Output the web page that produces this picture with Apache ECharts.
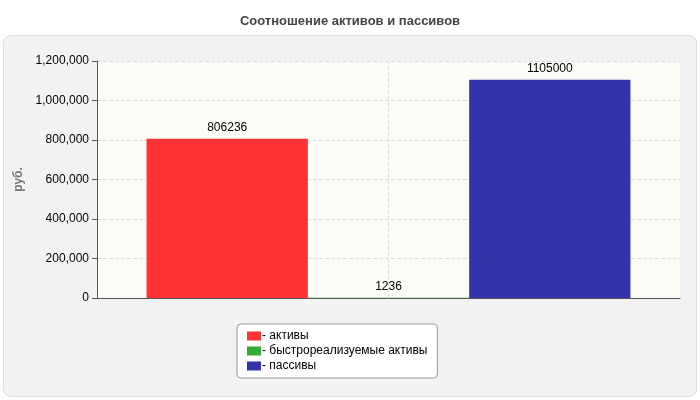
<!doctype html>
<html>
<head>
<meta charset="UTF-8">
<script src="https://cdn.jsdelivr.net/npm/echarts@6/dist/echarts.min.js"></script>
<style>
  body{margin:0;background:#fff;}
  #panel{position:absolute;left:3px;top:35px;width:692px;height:360px;background:#f2f2f2;border:1px solid #ddd;border-radius:8px;}
  #main{position:absolute;left:0;top:0;width:700px;height:400px;}
</style>
</head>
<body>
<div id="panel"></div>
<div id="main"></div>
<script>
var categories = [''];
var seriesNames = ['- активы', '- быстрореализуемые активы', '- пассивы'];
var seriesValues = [[806236], [1236], [1105000]];
var colors = ['#ff3333', '#33aa33', '#3333aa'];

var myChart = echarts.init(document.getElementById('main'));
var series = seriesNames.map(function (n, i) {
    return {
        name: n,
        type: 'bar',
        data: seriesValues[i],
        barGap: '0%',
        barCategoryGap: '17%',
        itemStyle: { color: colors[i] },
        label: { show: true, position: 'top', color: '#000', fontSize: 12, fontFamily: 'Arial' }
    };
});
var option = {
    animation: false,
    title: {
        text: 'Соотношение активов и пассивов',
        left: 'center', top: 10,
        textStyle: { fontSize: 13, fontWeight: 'bold', color: '#444', fontFamily: 'Arial' }
    },
    legend: {
        orient: 'vertical',
        left: 237, top: 324, width: 222, height: 58,
        padding: [6, 10, 6, 10],
        backgroundColor: '#fff', borderColor: '#999', borderWidth: 1, borderRadius: 4,
        itemWidth: 14, itemHeight: 9, itemGap: 3,
        icon: 'rect',
        textStyle: { fontSize: 12, color: '#000', fontFamily: 'Arial', padding: [0, 0, 0, -4] },
        data: seriesNames
    },
    grid: { left: 97, right: 20, top: 61, bottom: 102, backgroundColor: '#fcfcf6', show: true, borderWidth: 0 },
    xAxis: {
        type: 'category', data: categories,
        axisLine: { lineStyle: { color: '#555' } },
        axisTick: { show: false },
        splitLine: { show: false }
    },
    yAxis: {
        type: 'value', min: 0, max: 1200000, interval: 200000,
        name: 'руб.', nameLocation: 'middle', nameGap: 70, nameRotate: 90,
        nameTextStyle: { color: '#777', fontWeight: 'bold', fontSize: 12, fontFamily: 'Arial' },
        axisLine: { show: true, lineStyle: { color: '#555' } },
        axisTick: { show: true, lineStyle: { color: '#555' } },
        axisLabel: { color: '#000', fontSize: 12, fontFamily: 'Arial' },
        splitLine: { lineStyle: { type: 'dashed', color: '#ddd' } }
    },
    series: series.concat([{
        type: 'line', data: [], markLine: {
            silent: true, symbol: 'none', label: { show: false },
            lineStyle: { type: 'dashed', color: '#ddd', width: 1 },
            data: [{ xAxis: 0 }]
        }
    }])
};
myChart.setOption(option);
</script>
</body>
</html>
